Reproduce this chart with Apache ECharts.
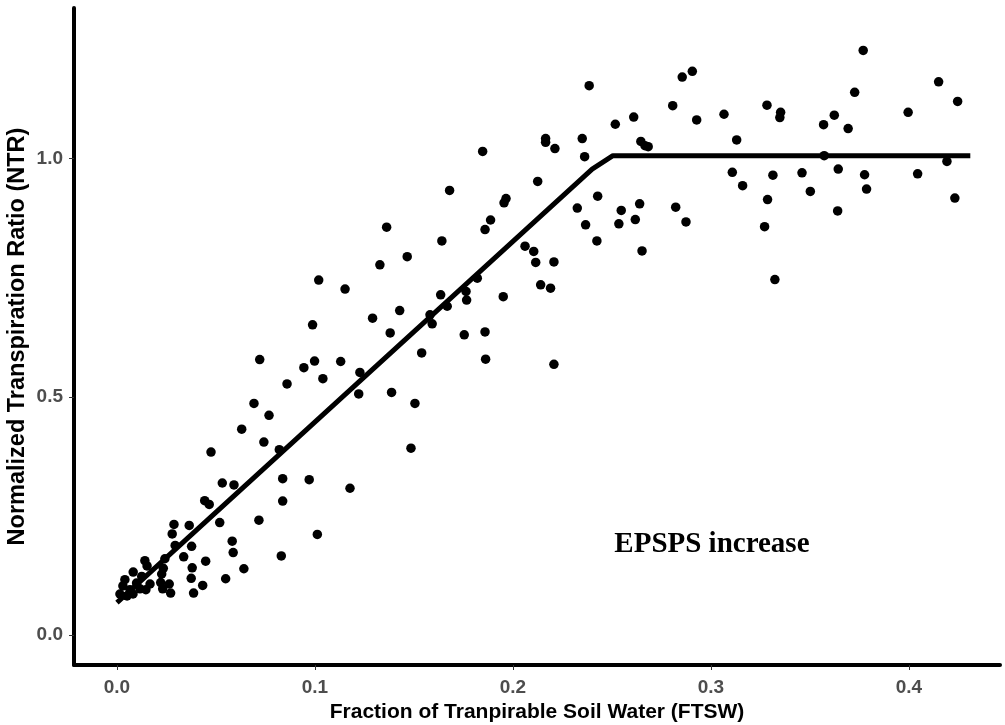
<!DOCTYPE html>
<html>
<head>
<meta charset="utf-8">
<script src="https://cdn.jsdelivr.net/npm/echarts@6/dist/echarts.min.js"></script>
<style>
html,body{margin:0;padding:0;background:#fff;}
#chart{width:1005px;height:725px;}
</style>
</head>
<body>
<div id="chart"></div>
<script>
// Observed points: FTSW (x) and NTR (y)
var ftsw = [
0.2385,0.2855,0.2906,0.2807,0.2610,0.2517,0.2928,0.3066,0.3283,0.3352,0.3348,0.2350,0.2362,0.2646,0.2667,0.2683,0.3130,0.3108,0.3160,0.3313,0.3286,0.3271,0.3323,0.2428,0.2325,0.2367,0.2424,0.2547,0.2535,0.2640,0.2618,0.2652,0.2822,0.2874,
0.3769,0.4150,0.3726,0.4246,0.3996,0.3623,0.3569,0.3693,0.3572,0.4192,0.3460,0.3643,0.3776,0.4044,0.3502,0.3786,0.4232,0.3640,
0.2165,0.2165,0.2212,0.1847,0.2125,0.1680,0.1965,0.1955,0.1362,0.1887,0.1859,0.1641,0.1466,0.1328,0.2061,0.2105,0.2115,0.2207,0.2140,0.2190,0.1820,0.1763,0.1766,0.1635,0.1668,0.1581,0.1592,0.1951,0.1428,0.1380,0.1754,0.1859,0.1539,0.1862,0.2207,
0.1019,0.1152,0.0988,0.1291,
0.0721,0.0998,0.1130,0.0944,0.1040,0.0859,0.1227,0.1221,0.0692,0.0768,0.0630,0.0742,0.0820,0.0475,
0.1387,0.1505,0.1485,
0.0837,0.0971,0.1177,0.0837,0.1012,0.0830,
0.0532,0.0591,0.0443,0.0466,0.0717,0.0519,0.0288,0.0279,0.0365,0.0377,0.0294,0.0582,0.0587,0.0337,0.0448,0.0641,0.0380,0.0375,0.0549,0.0433,0.0387,0.0242,0.0234,0.0226,0.0221,0.0231,0.0264,0.0271,0.0141,0.0152,0.0082,0.0125,
0.0040,0.0030,0.0066,0.0015,0.0099,0.0116,0.0081,0.0051,0.0146,0.0167
];
var ntr = [
1.153,1.171,1.183,1.111,1.087,1.072,1.081,1.093,1.112,1.097,1.086,1.042,1.004,1.036,1.027,1.025,1.039,0.971,0.943,0.965,0.914,0.857,0.746,0.921,0.896,0.861,0.827,0.891,0.863,0.905,0.872,0.806,0.898,0.867,
1.227,1.161,1.139,1.120,1.097,1.091,1.071,1.063,1.006,0.994,0.970,0.978,0.966,0.968,0.931,0.936,0.917,0.890,
1.042,1.034,1.021,1.015,0.952,0.933,0.916,0.907,0.856,0.871,0.851,0.827,0.794,0.777,0.816,0.805,0.782,0.783,0.735,0.728,0.749,0.721,0.703,0.714,0.690,0.672,0.653,0.710,0.681,0.634,0.630,0.636,0.592,0.579,0.568,
0.745,0.726,0.651,0.665,
0.578,0.575,0.574,0.561,0.538,0.527,0.551,0.506,0.486,0.461,0.432,0.405,0.389,0.384,
0.509,0.486,0.392,
0.328,0.326,0.308,0.281,0.211,0.166,
0.319,0.315,0.282,0.274,0.241,0.236,0.232,0.212,0.230,0.186,0.188,0.197,0.173,0.164,0.155,0.139,0.141,0.119,0.118,0.104,0.088,0.160,0.140,0.128,0.110,0.097,0.107,0.088,0.156,0.145,0.132,0.123,
0.116,0.103,0.095,0.086,0.109,0.097,0.086,0.082,0.095,0.107
];
// Fitted segmented (linear-plateau) curve
var fitX = [0.0, 0.240, 0.2505, 0.431];
var fitY = [0.068, 0.978, 1.006, 1.006];
// Tick values
var xTicks = [0.0, 0.1, 0.2, 0.3, 0.4];
var yTicks = [0.0, 0.5, 1.0];
// Annotation
var noteText = 'EPSPS increase';
var notePos = [0.3005, 0.189];

var points = ftsw.map(function(x, i){ return [x, ntr[i]]; });
var fitLine = fitX.map(function(x, i){ return [x, fitY[i]]; });

var chart = echarts.init(document.getElementById('chart'), null, {renderer:'canvas'});
var labelStyle = {color:'#4D4D4D', fontFamily:'Liberation Sans, Arial, sans-serif', fontWeight:'bold', fontSize:19};
chart.setOption({
  animation:false,
  backgroundColor:'#ffffff',
  grid:{left:74, right:5, top:8, bottom:60, containLabel:false, outerBoundsMode:'none'},
  xAxis:{
    type:'value', min:-0.0217, max:0.446,
    name:'Fraction of Tranpirable Soil Water (FTSW)',
    nameLocation:'middle', nameGap:35,
    nameTextStyle:{color:'#000', fontFamily:'Liberation Sans, Arial, sans-serif', fontWeight:'bold', fontSize:21},
    axisLine:{show:true, onZero:false, lineStyle:{color:'#000', width:4}},
    axisTick:{show:true, customValues:xTicks, length:5, lineStyle:{color:'#333', width:1}},
    axisLabel:Object.assign({customValues:xTicks, margin:13, formatter:function(v){return v.toFixed(1);}}, labelStyle),
    splitLine:{show:false}
  },
  yAxis:{
    type:'value', min:-0.063, max:1.316,
    name:'Normalized Transpiration Ratio (NTR)',
    nameLocation:'middle', nameGap:44, nameRotate:90, nameMoveOverlap:false,
    nameTextStyle:{color:'#000', fontFamily:'Liberation Sans, Arial, sans-serif', fontWeight:'bold', fontSize:23.5},
    axisLine:{show:true, onZero:false, lineStyle:{color:'#000', width:4}},
    axisTick:{show:true, customValues:yTicks, length:5, lineStyle:{color:'#333', width:1}},
    axisLabel:Object.assign({customValues:yTicks, margin:11, formatter:function(v){return v.toFixed(1);}}, labelStyle),
    splitLine:{show:false}
  },
  series:[
    {type:'scatter', data:points, symbol:'circle', symbolSize:9.5, itemStyle:{color:'#000', opacity:1}, z:2},
    {type:'line', data:fitLine, showSymbol:false, symbol:'none', lineStyle:{color:'#000', width:5, opacity:1}, z:3},
    {type:'scatter', data:[notePos], symbolSize:0, silent:true, itemStyle:{opacity:1},
      label:{show:true, position:'inside', formatter:noteText, color:'#000', opacity:1,
        fontFamily:'Liberation Serif, Times New Roman, serif', fontWeight:'bold', fontSize:29}}
  ]
});
</script>
</body>
</html>
